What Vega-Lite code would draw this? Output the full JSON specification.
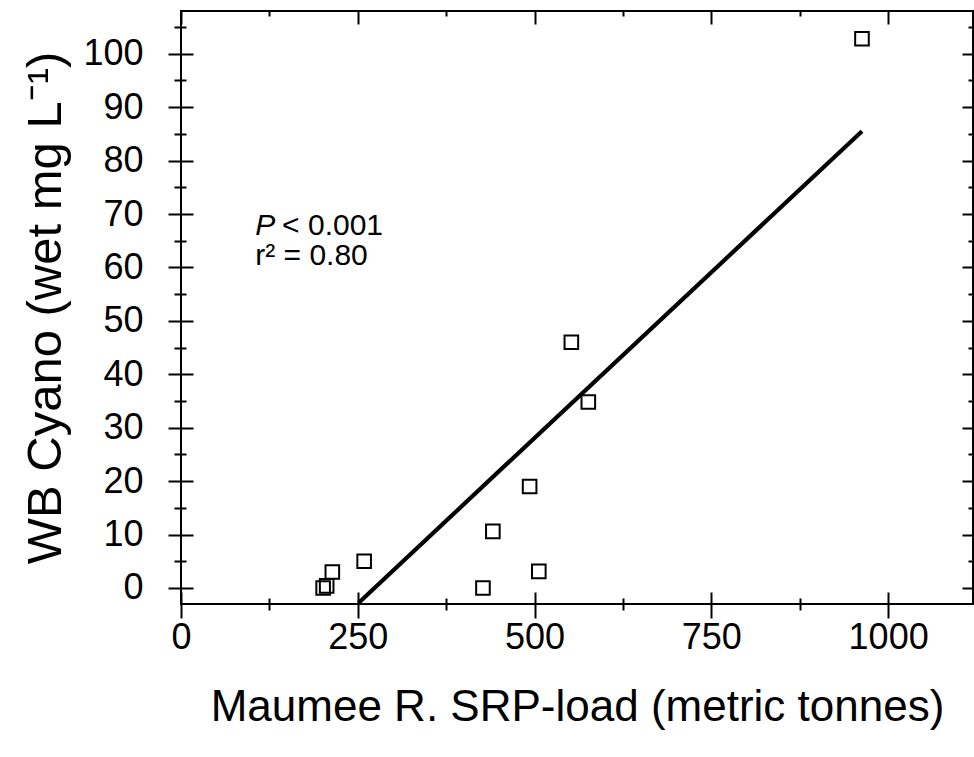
{
  "$schema": "https://vega.github.io/schema/vega-lite/v6.json",
  "autosize": {"type": "none"},
  "padding": {"left": 181, "top": 11, "right": 1, "bottom": 153},
  "width": 792,
  "height": 593,
  "background": "white",
  "datasets": {
    "pts": [
      {"srp": 201, "cyano": 0.0},
      {"srp": 206, "cyano": 0.4},
      {"srp": 214, "cyano": 3.0},
      {"srp": 259, "cyano": 5.0},
      {"srp": 427, "cyano": 0.0},
      {"srp": 441, "cyano": 10.6},
      {"srp": 493, "cyano": 19.0},
      {"srp": 506, "cyano": 3.1},
      {"srp": 552, "cyano": 46.0},
      {"srp": 576, "cyano": 34.8},
      {"srp": 963, "cyano": 102.8}
    ],
    "fit": [
      {"srp": 251, "cyano": -2.8},
      {"srp": 963, "cyano": 85.5}
    ],
    "p1": [{"srp": 105, "cyano": 66.0, "label": "P"}],
    "p2": [{"srp": 143, "cyano": 66.0, "label": "< 0.001"}],
    "p3": [{"srp": 105, "cyano": 60.4, "label": "r² = 0.80"}]
  },
  "resolve": {"axis": {"x": "independent", "y": "independent"}},
  "layer": [
    {
      "data": {"name": "pts"},
      "mark": {"type": "point", "shape": "square", "filled": false, "color": "black", "size": 185, "strokeWidth": 2, "opacity": 1},
      "encoding": {
        "x": {"field": "srp", "type": "quantitative", "scale": {"domain": [0, 1120], "nice": false, "zero": false},
          "axis": {"orient": "bottom", "values": [0, 250, 500, 750, 1000], "format": "d", "tickSize": 14, "labelPadding": 2, "title": "Maumee R. SRP-load (metric tonnes)", "titlePadding": 30, "titleFontSize": 44}},
        "y": {"field": "cyano", "type": "quantitative", "scale": {"domain": [-3, 108], "nice": false, "zero": false},
          "axis": {"orient": "left", "values": [0, 10, 20, 30, 40, 50, 60, 70, 80, 90, 100], "format": "d", "tickSize": 13, "labelPadding": 25, "title": "WB Cyano (wet mg L⁻¹)", "titlePadding": 12, "titleFontSize": 49}}
      }
    },
    {
      "data": {"name": "pts"},
      "mark": {"type": "point", "opacity": 0},
      "encoding": {
        "x": {"field": "srp", "type": "quantitative", "scale": {"domain": [0, 1120], "nice": false, "zero": false},
          "axis": {"orient": "bottom", "values": [0, 250, 500, 750, 1000], "tickSize": -12, "labels": false, "title": null}},
        "y": {"field": "cyano", "type": "quantitative", "scale": {"domain": [-3, 108], "nice": false, "zero": false},
          "axis": {"orient": "left", "values": [0, 10, 20, 30, 40, 50, 60, 70, 80, 90, 100], "tickSize": -12, "labels": false, "title": null}}
      }
    },
    {
      "data": {"name": "pts"},
      "mark": {"type": "point", "opacity": 0},
      "encoding": {
        "x": {"field": "srp", "type": "quantitative", "scale": {"domain": [0, 1120], "nice": false, "zero": false},
          "axis": {"orient": "bottom", "values": [125, 375, 625, 875], "tickSize": 6, "labels": false, "title": null}},
        "y": {"field": "cyano", "type": "quantitative", "scale": {"domain": [-3, 108], "nice": false, "zero": false},
          "axis": {"orient": "left", "values": [5, 15, 25, 35, 45, 55, 65, 75, 85, 95, 105], "tickSize": 7, "labels": false, "title": null}}
      }
    },
    {
      "data": {"name": "pts"},
      "mark": {"type": "point", "opacity": 0},
      "encoding": {
        "x": {"field": "srp", "type": "quantitative", "scale": {"domain": [0, 1120], "nice": false, "zero": false},
          "axis": {"orient": "bottom", "values": [125, 375, 625, 875], "tickSize": -6, "labels": false, "title": null}},
        "y": {"field": "cyano", "type": "quantitative", "scale": {"domain": [-3, 108], "nice": false, "zero": false},
          "axis": {"orient": "left", "values": [5, 15, 25, 35, 45, 55, 65, 75, 85, 95, 105], "tickSize": -5, "labels": false, "title": null}}
      }
    },
    {
      "data": {"name": "pts"},
      "mark": {"type": "point", "opacity": 0},
      "encoding": {
        "x": {"field": "srp", "type": "quantitative", "scale": {"domain": [0, 1120], "nice": false, "zero": false},
          "axis": {"orient": "top", "values": [0, 250, 500, 750, 1000], "tickSize": -13, "labels": false, "title": null}},
        "y": {"field": "cyano", "type": "quantitative", "scale": {"domain": [-3, 108], "nice": false, "zero": false},
          "axis": {"orient": "right", "values": [0, 10, 20, 30, 40, 50, 60, 70, 80, 90, 100], "tickSize": -11, "labels": false, "title": null}}
      }
    },
    {
      "data": {"name": "pts"},
      "mark": {"type": "point", "opacity": 0},
      "encoding": {
        "x": {"field": "srp", "type": "quantitative", "scale": {"domain": [0, 1120], "nice": false, "zero": false},
          "axis": {"orient": "top", "values": [125, 375, 625, 875], "tickSize": -5, "labels": false, "title": null}},
        "y": {"field": "cyano", "type": "quantitative", "scale": {"domain": [-3, 108], "nice": false, "zero": false},
          "axis": {"orient": "right", "values": [5, 15, 25, 35, 45, 55, 65, 75, 85, 95, 105], "tickSize": -5, "labels": false, "title": null}}
      }
    },
    {
      "data": {"name": "fit"},
      "mark": {"type": "line", "color": "black", "strokeWidth": 4.2},
      "encoding": {
        "x": {"field": "srp", "type": "quantitative", "scale": {"domain": [0, 1120], "nice": false, "zero": false}, "axis": null},
        "y": {"field": "cyano", "type": "quantitative", "scale": {"domain": [-3, 108], "nice": false, "zero": false}, "axis": null}
      }
    },
    {
      "data": {"name": "p1"},
      "mark": {"type": "text", "font": "Liberation Sans", "fontSize": 30, "fontStyle": "italic", "align": "left", "baseline": "alphabetic", "color": "black"},
      "encoding": {
        "x": {"field": "srp", "type": "quantitative", "axis": null},
        "y": {"field": "cyano", "type": "quantitative", "axis": null},
        "text": {"field": "label"}
      }
    },
    {
      "data": {"name": "p2"},
      "mark": {"type": "text", "font": "Liberation Sans", "fontSize": 30, "align": "left", "baseline": "alphabetic", "color": "black"},
      "encoding": {
        "x": {"field": "srp", "type": "quantitative", "axis": null},
        "y": {"field": "cyano", "type": "quantitative", "axis": null},
        "text": {"field": "label"}
      }
    },
    {
      "data": {"name": "p3"},
      "mark": {"type": "text", "font": "Liberation Sans", "fontSize": 30, "align": "left", "baseline": "alphabetic", "color": "black"},
      "encoding": {
        "x": {"field": "srp", "type": "quantitative", "axis": null},
        "y": {"field": "cyano", "type": "quantitative", "axis": null},
        "text": {"field": "label"}
      }
    }
  ],
  "config": {
    "view": {"stroke": "black", "strokeWidth": 2},
    "axis": {
      "domain": false,
      "grid": false,
      "tickColor": "black",
      "tickWidth": 2,
      "labelFont": "Liberation Sans",
      "labelFontSize": 36,
      "labelColor": "black",
      "labelFlush": false,
      "labelOverlap": false,
      "labelBound": false,
      "titleFont": "Liberation Sans",
      "titleFontWeight": "normal",
      "titleColor": "black"
    }
  }
}
